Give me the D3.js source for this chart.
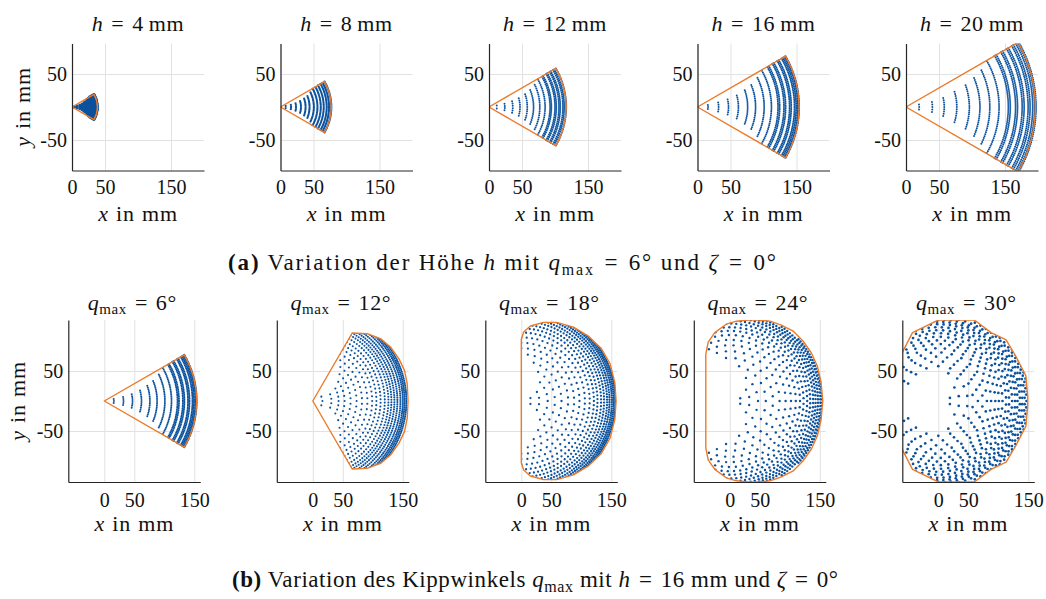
<!DOCTYPE html>
<html>
<head>
<meta charset="utf-8">
<script src="https://cdn.jsdelivr.net/npm/d3@7"></script>
<style>
  html, body { margin: 0; padding: 0; background: #fff; }
  svg { display: block; font-family: "Liberation Serif", "DejaVu Serif", serif; }
</style>
</head>
<body>
<svg id="fig" width="1046" height="599"></svg>
<script>
// ---- data (mm / degrees) ----
const heights = [4, 8, 12, 16, 20];
const qMax = [6, 12, 18, 24, 30];
const xTicks = [0, 50, 150];
const yTicks = [-50, 50];

// reachable outer radius of the workspace sector (top row, half angle 30 deg)
const sectorRadius = [38.5, 77, 117, 154, 196];
const sectorHalfAngle = 30;

// arcs of tip positions: [radius, half span, number of points]
const arcsH4 = [[4, 11, 2], [8, 12, 3], [12, 14, 4], [15.5, 16, 6], [19, 20, 9], [22, 22, 12],
  [25, 26, 15], [28, 29, 19], [30.5, 30, 22], [33, 30, 24], [35, 30, 26], [37, 30, 28], [38.5, 30, 30]];
const arcsH8 = [[8, 11.6, 2], [16, 12, 4], [23.5, 13.8, 6], [31, 16.4, 9], [38, 19.6, 13], [44, 22.3, 17],
  [50.5, 26, 22], [56, 29.4, 27], [61, 29.6, 30], [65.5, 30, 33], [70, 30, 36], [73.5, 30, 38], [77, 30, 40]];
const arcsH12 = [[12, 11.6, 2], [24, 12, 4], [36, 13.8, 6], [47, 16.4, 9], [58, 19.6, 13], [67.5, 22.3, 18],
  [77, 26, 23], [85, 29.4, 29], [92.5, 29.6, 32], [94.5, 29.6, 33], [100, 30, 35], [102, 30, 36],
  [106, 30, 37], [108, 30, 38], [112, 30, 39], [114, 30, 40], [117, 30, 41]];
const arcsH16 = [[16, 11.6, 3], [32, 12, 5], [47, 13.8, 8], [62, 16.4, 12], [76, 19.6, 18], [88, 22.3, 24],
  [101, 26, 32], [112, 29.4, 40], [122, 29.6, 45], [124.5, 29.8, 46], [131, 30, 50], [133.5, 30, 51],
  [139.5, 30, 55], [142, 30, 56], [147, 30, 60], [149.5, 30, 61], [152, 30, 63], [154, 30, 65]];
const arcsH20 = [[20, 10.7, 3], [40, 10.8, 5], [58, 13.7, 9], [77, 17.4, 15], [96, 20, 22], [112, 23, 30],
  [127, 26, 38], [141, 29.7, 48], [155, 30, 54], [158, 30, 55], [166, 30, 58], [169, 30, 59], [176, 30, 61],
  [179, 30, 62], [185, 30, 64], [188, 30, 65], [192, 30, 67], [195, 30, 68], [197, 30, 68]];

const ringsQ12 = [[16, 27, 3], [31, 21, 4], [43, 29, 7], [53, 37, 9], [63, 45, 12], [73, 51, 15], [82, 56, 18],
  [91, 60, 22], [99, 60, 27], [106, 60, 33], [113, 60, 40], [120, 60, 48], [126, 60, 56], [131, 60, 64],
  [136, 60, 72], [141, 60, 80], [146, 60, 88], [150, 60, 96], [153, 60, 104], [156, 60, 110]];
const ringsQ18 = [[16, 18, 2], [30, 30, 4], [44, 45, 7], [56, 60, 10], [67, 72, 15], [78, 82, 20], [88, 90, 26],
  [97, 90, 31], [106, 90, 38], [114, 90, 46], [121, 90, 55], [127, 90, 64], [133, 90, 74], [138, 88, 84],
  [143, 85, 94], [147, 80, 100], [151, 70, 100], [154, 60, 94], [157, 45, 80]];
const ringsQ24 = [[18, 15, 2], [33, 35, 4], [47, 55, 7], [60, 75, 11], [72, 95, 16], [83, 105, 21], [93, 112, 27],
  [102, 115, 33], [110, 115, 39], [117, 112, 45], [123, 108, 50], [129, 100, 55], [134, 92, 58], [139, 84, 60],
  [143, 75, 60], [147, 65, 58], [151, 55, 52], [154, 42, 44]];
const ringsQ30 = [[20, 15, 2], [35, 40, 4], [49, 70, 8], [58, 150, 16], [66, 150, 19], [74, 150, 22], [81, 148, 25],
  [88, 145, 29], [95, 140, 33], [101, 137, 37], [107, 135, 41], [113, 130, 44], [118, 125, 46], [123, 118, 47],
  [128, 110, 47], [132, 100, 45], [136, 90, 42], [140, 80, 38], [144, 65, 32], [147, 50, 25], [150, 35, 18]];

// upper half of the convex hull outlines (mirrored for the lower half)
const hullQ12 = [[0, 0], [65.6, 113.3], [90.6, 112.3], [112.8, 104], [129.5, 90], [143.4, 70.6], [152.8, 51.1], [157.3, 29], [159, 0]];
const hullQ18 = [[0, 0], [0, 103], [4, 115], [15, 125], [37, 131], [59, 131], [87, 123], [112, 108], [133, 88], [148, 62], [156, 30], [158, 0]];
const hullQ24 = [[-40, 0], [-40, 78], [-36, 98], [-25, 114], [-6, 128], [11, 133], [30, 135], [50, 135], [67, 133], [85, 127],
  [105, 117], [122, 100], [136, 80], [146, 58], [152, 32], [155, 0]];
const hullQ30 = [[-62, 0], [-62, 77], [-43, 114], [0, 135], [60, 135], [88, 114], [113, 102], [129, 75], [146, 42], [149, 8], [149, 0]];

const topArcs = [arcsH4, arcsH8, arcsH12, arcsH16, arcsH20];
const topDotR = [1.35, 1.1, 1.0, 1.0, 1.0];
const bottomRings = [arcsH16, ringsQ12, ringsQ18, ringsQ24, ringsQ30];
const bottomHulls = [null, hullQ12, hullQ18, hullQ24, hullQ30];
const bottomDotR = [1.0, 1.05, 1.15, 1.2, 1.35];

// ---- layout ----
const blue = '#0b529e';
const orange = '#eb7b2b';
const ink = '#111';
const svg = d3.select('#fig');
const step = 208.5;

const rows = [
  { top: 43.5, left: 72, w: 132, h: 127, xDom: [0, 200], yDom: [-96.2, 96.2], tickPad: 9, xLabelY: 221, yLabelX: 30, titleY: 31, sector: 'row' },
  { top: 320, left: 68.3, w: 132, h: 162, xDom: [-60, 160], yDom: [-135, 135], tickPad: 11, xLabelY: 531, yLabelX: 25, titleY: 310, sector: 3 }
];

function mirror(half) {
  const lower = half.slice().reverse().map(([x, y]) => [x, -y]);
  return half.concat(lower);
}

function ringPoints(rings) {
  const pts = [];
  rings.forEach(([r, span, n]) => {
    for (let i = 0; i < n; i++) {
      const a = (n === 1 ? 0 : -span + i * (2 * span) / (n - 1)) * Math.PI / 180;
      pts.push([r * Math.cos(a), r * Math.sin(a)]);
    }
  });
  return pts;
}

function panel(row, i, rings, hull, dotR, title) {
  const ox = row.left + i * step;
  const g = svg.append('g').attr('transform', `translate(${ox},${row.top})`);
  const x = d3.scaleLinear().domain(row.xDom).range([0, row.w]);
  const y = d3.scaleLinear().domain(row.yDom).range([row.h, 0]);
  const id = `clip-${Math.round(row.top)}-${i}`;

  // grid
  g.append('g').attr('transform', `translate(0,${row.h})`)
    .call(d3.axisBottom(x).tickValues(xTicks).tickSize(-row.h).tickFormat(''))
    .call(s => s.select('.domain').remove())
    .call(s => s.selectAll('line').attr('stroke', '#e2e2e2').attr('stroke-width', 1));
  g.append('g')
    .call(d3.axisLeft(y).tickValues(yTicks).tickSize(-row.w).tickFormat(''))
    .call(s => s.select('.domain').remove())
    .call(s => s.selectAll('line').attr('stroke', '#e2e2e2').attr('stroke-width', 1));

  const defs = g.append('defs');
  defs.append('clipPath').attr('id', id)
    .append('rect').attr('width', row.w).attr('height', row.h);

  const plot = g.append('g').attr('clip-path', `url(#${id})`);
  const dots = plot.append('g');

  let hullD;
  if (hull) {
    hullD = d3.line().x(d => x(d[0])).y(d => y(d[1]))(mirror(hull)) + 'Z';
    const hid = id + '-hull';
    defs.append('clipPath').attr('id', hid).append('path').attr('d', hullD);
    dots.attr('clip-path', `url(#${hid})`);
  }

  dots.selectAll('circle')
    .data(ringPoints(rings))
    .join('circle')
    .attr('cx', d => x(d[0]))
    .attr('cy', d => y(d[1]))
    .attr('r', dotR)
    .attr('fill', blue);

  if (hull) {
    plot.append('path').attr('d', hullD)
      .attr('fill', 'none').attr('stroke', orange).attr('stroke-width', 1.4)
      .attr('stroke-linejoin', 'round');
  } else {
    const R = sectorRadius[row.sector === 'row' ? i : row.sector];
    const a = sectorHalfAngle * Math.PI / 180;
    plot.append('path')
      .attr('transform', `translate(${x(0)},${y(0)})`)
      .attr('d', d3.arc().innerRadius(0).outerRadius(x(R) - x(0))
        .startAngle(Math.PI / 2 - a).endAngle(Math.PI / 2 + a)())
      .attr('fill', 'none').attr('stroke', orange).attr('stroke-width', 1.4)
      .attr('stroke-linejoin', 'round');
  }

  // axes
  const xa = g.append('g').attr('transform', `translate(0,${row.h})`)
    .call(d3.axisBottom(x).tickValues(xTicks).tickSize(0).tickPadding(row.tickPad).tickFormat(d3.format('d')));
  const ya = g.append('g')
    .call(d3.axisLeft(y).tickValues(yTicks).tickSize(0).tickPadding(5).tickFormat(d => d < 0 ? '-' + Math.abs(d) : d));
  [xa, ya].forEach(a => {
    a.select('.domain').attr('stroke', '#262626').attr('stroke-width', 1.2);
    a.selectAll('text').attr('font-family', '"Liberation Serif", serif').attr('font-size', 20).attr('fill', ink);
  });

  // x label
  const xl = svg.append('text')
    .attr('x', ox + row.w / 2).attr('y', row.xLabelY)
    .attr('text-anchor', 'middle').attr('font-size', 22).attr('letter-spacing', 0.8).attr('word-spacing', 1).attr('fill', ink);
  xl.append('tspan').attr('font-style', 'italic').text('x');
  xl.append('tspan').text(' in mm');

  if (i === 0) {
    const cy = row.top + row.h / 2;
    const yl = svg.append('text')
      .attr('transform', `translate(${row.yLabelX},${cy}) rotate(-90)`)
      .attr('text-anchor', 'middle').attr('font-size', 22).attr('letter-spacing', 0.8).attr('word-spacing', 1).attr('fill', ink);
    yl.append('tspan').attr('font-style', 'italic').text('y');
    yl.append('tspan').text(' in mm');
  }

  title(svg.append('text')
    .attr('x', ox + row.w / 2 + (row.sector === 'row' ? 0 : -2))
    .attr('y', row.titleY)
    .attr('text-anchor', 'middle').attr('font-size', 22).attr('letter-spacing', 0.6).attr('fill', ink));
}

heights.forEach((hv, i) => {
  panel(rows[0], i, topArcs[i], null, topDotR[i], t => {
    t.append('tspan').attr('font-style', 'italic').text('h');
    t.append('tspan').text(`\u2004=\u2004${hv}\u2009mm`);
  });
});

qMax.forEach((qv, i) => {
  panel(rows[1], i, bottomRings[i], bottomHulls[i], bottomDotR[i], t => {
    t.append('tspan').attr('font-style', 'italic').text('q');
    t.append('tspan').attr('font-size', 15).attr('dy', 4).text('max');
    t.append('tspan').attr('dy', -4).text(`\u2004=\u2004${qv}\u00B0`);
  });
});

// captions, stretched to the span they take in the reference
function caption(yPos, x0, x1, parts) {
  const t = svg.append('text').attr('x', x0).attr('y', yPos)
    .attr('text-anchor', 'start').attr('font-size', 23)
    .attr('textLength', x1 - x0).attr('lengthAdjust', 'spacing').attr('fill', ink);
  parts.forEach(([txt, style]) => {
    const s = t.append('tspan').text(txt);
    if (style === 'b') s.attr('font-weight', 'bold');
    if (style === 'i') s.attr('font-style', 'italic');
    if (style === 'sub') s.attr('font-size', 16).attr('dy', 5);
    if (style === 'up') s.attr('dy', -5);
  });
}
caption(270, 228, 776, [['(a)', 'b'], [' Variation der Höhe '], ['h', 'i'], [' mit '], ['q', 'i'], ['max', 'sub'],
  ['\u2004=\u20046\u00B0 und ', 'up'], ['\u03B6', 'i'], ['\u2004=\u20040\u00B0']]);
caption(587, 232, 838, [['(b)', 'b'], [' Variation des Kippwinkels '], ['q', 'i'], ['max', 'sub'], [' mit ', 'up'],
  ['h', 'i'], ['\u2004=\u200416 mm und '], ['\u03B6', 'i'], ['\u2004=\u20040\u00B0']]);
</script>
</body>
</html>
